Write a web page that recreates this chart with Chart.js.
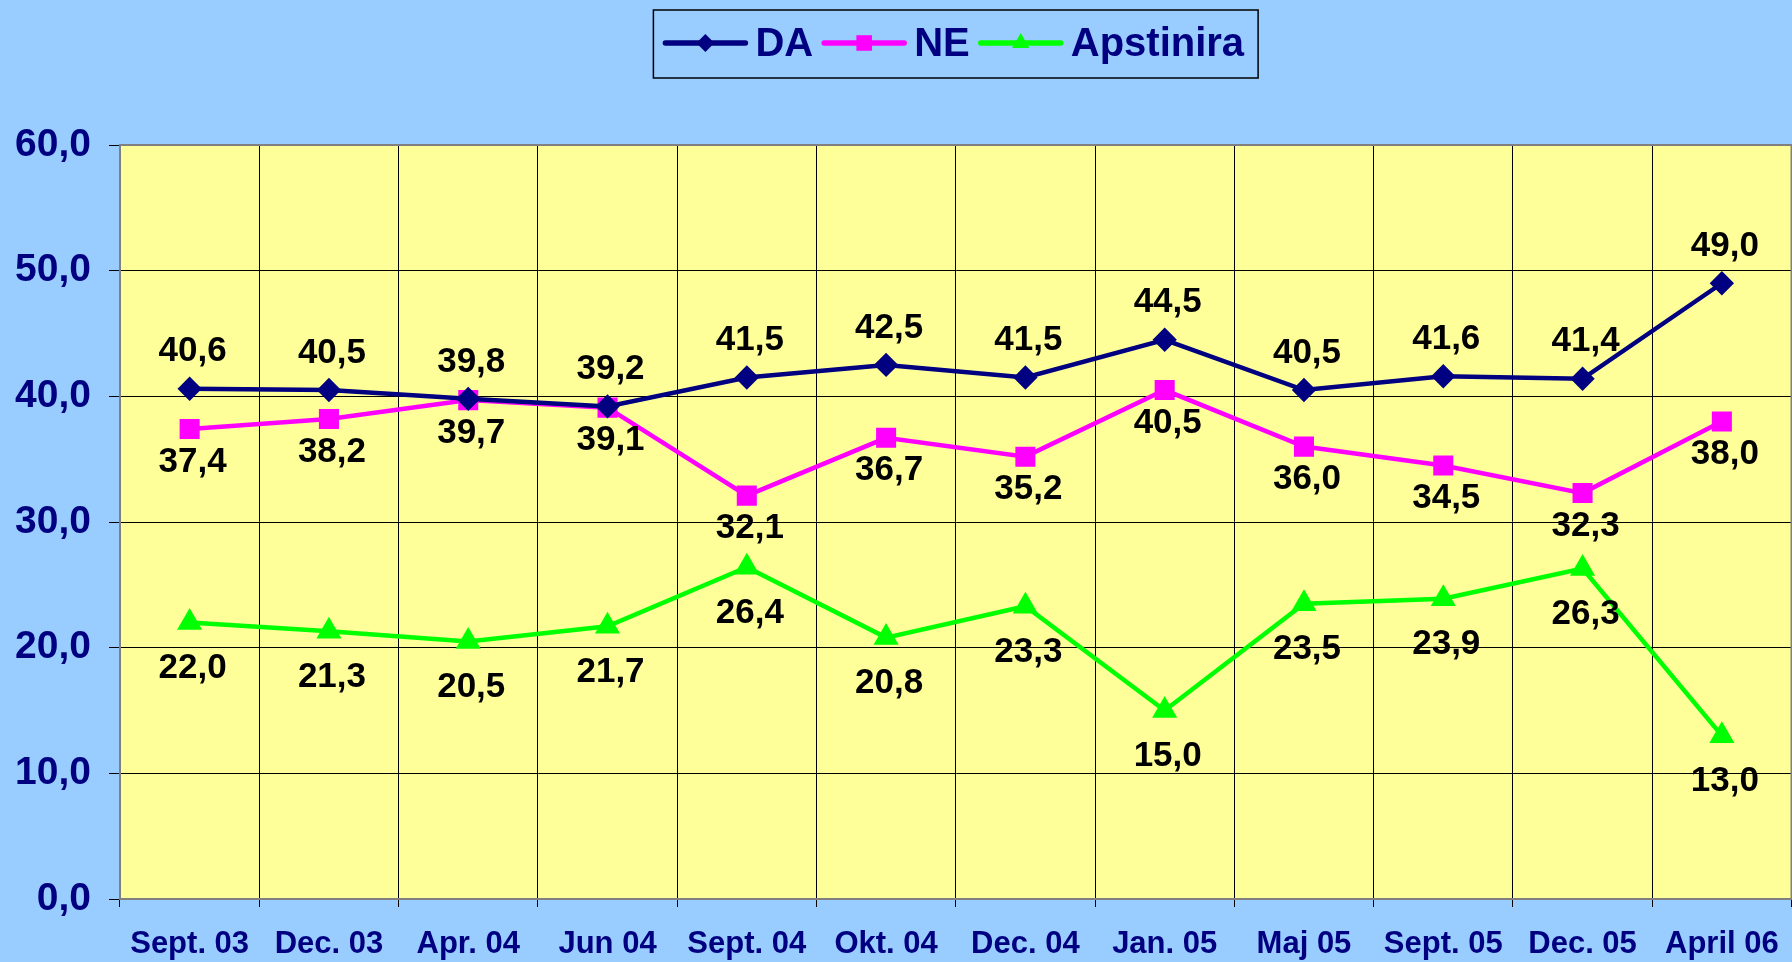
<!DOCTYPE html>
<html>
<head>
<meta charset="utf-8">
<script src="https://cdn.jsdelivr.net/npm/chart.js@4/dist/chart.umd.min.js"></script>
<style>
html,body{margin:0;padding:0;background:#99CCFF;overflow:hidden;width:1792px;height:962px;}
#wrap{width:1792px;height:962px;}
</style>
</head>
<body>
<div id="wrap"><canvas id="c" width="1792" height="962"></canvas></div>
<script>
const categories = ['Sept. 03','Dec. 03','Apr. 04','Jun 04','Sept. 04','Okt. 04','Dec. 04','Jan. 05','Maj 05','Sept. 05','Dec. 05','April 06'];
const daValues = [40.6, 40.5, 39.8, 39.2, 41.5, 42.5, 41.5, 44.5, 40.5, 41.6, 41.4, 49.0];
const neValues = [37.4, 38.2, 39.7, 39.1, 32.1, 36.7, 35.2, 40.5, 36.0, 34.5, 32.3, 38.0];
const apsValues = [22.0, 21.3, 20.5, 21.7, 26.4, 20.8, 23.3, 15.0, 23.5, 23.9, 26.3, 13.0];
const yTicks = [0, 10, 20, 30, 40, 50, 60];

const FONT = "'Liberation Sans', Arial, sans-serif";
const NAVY = '#000080';
const fmt = v => v.toFixed(1).replace('.', ',');

function drawMarker(ctx, style, x, y, r, color) {
  ctx.save();
  ctx.fillStyle = color;
  ctx.beginPath();
  if (style === 'rectRot') {
    ctx.moveTo(x, y - r); ctx.lineTo(x + r, y); ctx.lineTo(x, y + r); ctx.lineTo(x - r, y);
  } else if (style === 'rect') {
    const s = r * Math.SQRT1_2;
    ctx.rect(x - s, y - s, 2 * s, 2 * s);
  } else {
    const h = r * 1.5, w = r * Math.sqrt(3);
    ctx.moveTo(x, y - r); ctx.lineTo(x + w / 2, y + h - r); ctx.lineTo(x - w / 2, y + h - r);
  }
  ctx.closePath();
  ctx.fill();
  ctx.restore();
}

const bgPlugin = {
  id: 'bg',
  beforeDraw(chart) {
    const ctx = chart.ctx, a = chart.chartArea;
    ctx.save();
    ctx.fillStyle = '#99CCFF';
    ctx.fillRect(0, 0, chart.width, chart.height);
    ctx.fillStyle = '#FFFF99';
    ctx.fillRect(a.left, a.top, a.right - a.left, a.bottom - a.top);
    ctx.restore();
  },
  afterDatasetsDraw(chart) {
    const ctx = chart.ctx, a = chart.chartArea;
    ctx.save();
    ctx.strokeStyle = '#808080';
    ctx.lineWidth = 2;
    ctx.strokeRect(a.left, a.top, a.right - a.left, a.bottom - a.top);
    ctx.restore();
  }
};

const labelPlugin = {
  id: 'vlabels',
  afterDatasetsDraw(chart) {
    const ctx = chart.ctx;
    ctx.save();
    ctx.font = 'bold 35px ' + FONT;
    ctx.fillStyle = '#000000';
    ctx.textAlign = 'center';
    ctx.textBaseline = 'middle';
    chart.data.datasets.forEach((ds, i) => {
      const meta = chart.getDatasetMeta(i);
      meta.data.forEach((pt, j) => {
        ctx.fillText(fmt(ds.data[j]), pt.x + 3, pt.y + ds.labelDy);
      });
    });
    ctx.restore();
  }
};

const legendPlugin = {
  id: 'customLegend',
  afterDraw(chart) {
    const ctx = chart.ctx, a = chart.chartArea;
    ctx.save();
    ctx.font = 'bold 40px ' + FONT;
    const lineW = 80, gapText = 10, gapItem = 11, padL = 12, padR = 14;
    const items = chart.data.datasets.map(ds => ({ds, tw: ctx.measureText(ds.label).width}));
    let total = padL + padR;
    items.forEach((it, k) => { total += lineW + gapText + it.tw + (k < items.length - 1 ? gapItem : 0); });
    const cx = (a.left + a.right) / 2;
    const left = cx - total / 2, top = 10, h = 68, cy = top + h / 2 - 1;
    ctx.strokeStyle = '#000000';
    ctx.lineWidth = 1.5;
    ctx.strokeRect(left, top, total, h);
    let x = left + padL;
    items.forEach(it => {
      ctx.strokeStyle = it.ds.borderColor;
      ctx.lineWidth = 5.5;
      ctx.lineCap = 'round';
      ctx.beginPath(); ctx.moveTo(x, cy); ctx.lineTo(x + lineW, cy); ctx.stroke();
      drawMarker(ctx, it.ds.pointStyle, x + lineW / 2, cy, it.ds.pointRadius, it.ds.borderColor);
      ctx.fillStyle = NAVY;
      ctx.textAlign = 'left';
      ctx.textBaseline = 'middle';
      ctx.fillText(it.ds.label, x + lineW + gapText, cy + 2);
      x += lineW + gapText + it.tw + gapItem;
    });
    ctx.restore();
  }
};

function config() {
  return {
    type: 'line',
    data: {
      labels: categories,
      datasets: [
        {label: 'DA', data: daValues, borderColor: '#000080', backgroundColor: '#000080', borderWidth: 4.5,
         pointStyle: 'rectRot', pointRadius: 9, pointHoverRadius: 9, labelDy: -37, tension: 0},
        {label: 'NE', data: neValues, borderColor: '#FF00FF', backgroundColor: '#FF00FF', borderWidth: 4.5,
         pointStyle: 'rect', pointRadius: 11, pointHoverRadius: 11, labelDy: 33, tension: 0},
        {label: 'Apstinira', data: apsValues, borderColor: '#00FF00', backgroundColor: '#00FF00', borderWidth: 4.5,
         pointStyle: 'triangle', pointRadius: 10, pointHoverRadius: 10, labelDy: 46, tension: 0}
      ]
    },
    options: {
      responsive: false,
      animation: false,
      devicePixelRatio: 1,
      layout: {padding: {top: 145, right: 1, left: 0, bottom: 0}},
      plugins: {legend: {display: false}, tooltip: {enabled: false}},
      scales: {
        x: {
          offset: true,
          grid: {offset: true, color: '#000000', lineWidth: 1, tickLength: 8, tickColor: '#000000'},
          border: {color: '#808080', width: 2},
          ticks: {color: NAVY, font: {family: FONT, size: 31, weight: 'bold'}, padding: 19, maxRotation: 0, autoSkip: false},
          afterFit(s) { s.height = 63; s.paddingLeft = 0; s.paddingRight = 0; }
        },
        y: {
          min: 0, max: 60,
          afterBuildTicks(s) { s.ticks = yTicks.map(v => ({value: v})); },
          grid: {color: '#000000', lineWidth: 1, tickLength: 11, tickColor: '#000000'},
          border: {color: '#808080', width: 2},
          ticks: {color: NAVY, font: {family: FONT, size: 39, weight: 'bold'}, padding: 18, callback: v => fmt(v)},
          afterFit(s) { s.width = 120; }
        }
      }
    },
    plugins: [bgPlugin, labelPlugin, legendPlugin]
  };
}

const wrap = document.getElementById('wrap');
let canvas = document.getElementById('c');
let ch = new Chart(canvas, config());
// the plot area reaches the right edge of the page in the reference
const diff = Math.round(1791 - ch.chartArea.right);
if (diff > 0) {
  ch.destroy();
  const w = 1792 + diff;
  wrap.style.width = w + 'px';
  canvas.width = w; canvas.height = 962;
  canvas.style.width = w + 'px'; canvas.style.height = '962px';
  ch = new Chart(canvas, config());
}
</script>
</body>
</html>
